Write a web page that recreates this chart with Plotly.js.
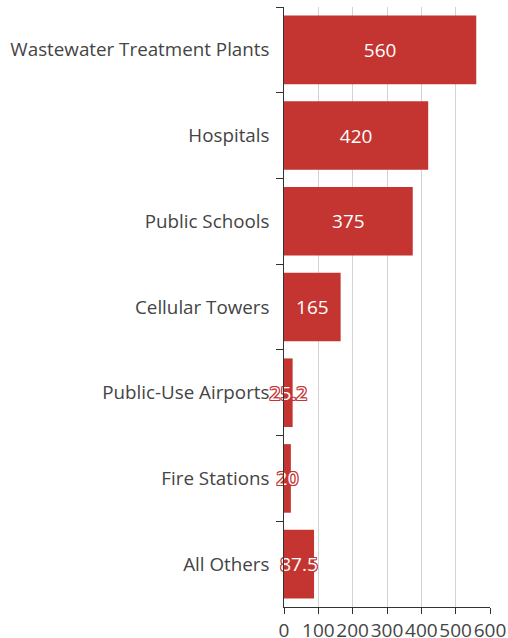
<!DOCTYPE html>
<html><head><meta charset="utf-8">
<script src="https://cdn.plot.ly/plotly-3.0.1.min.js"></script>
<style>html,body{margin:0;padding:0;background:#fff}</style>
</head><body>
<div id="chart" style="width:508px;height:638px"></div>
<script>
const categories = ["Wastewater Treatment Plants","Hospitals","Public Schools","Cellular Towers","Public-Use Airports","Fire Stations","All Others"];
const values = [560, 420, 375, 165, 25.2, 20, 87.5];
const xTicks = [0,100,200,300,400,500,600];
const red = "#c43532";
const outline = ["-1px -1px 0 "+red,"1px -1px 0 "+red,"-1px 1px 0 "+red,"1px 1px 0 "+red,"0 1px 0 "+red,"0 -1px 0 "+red,"1px 0 0 "+red,"-1px 0 0 "+red].join(",");
Plotly.newPlot("chart", [{
  type: "bar", orientation: "h",
  y: categories, x: values,
  text: values.map(String), textposition: "inside", insidetextanchor: "middle", textangle: 0,
  constraintext: "none", cliponaxis: false,
  textfont: {family: "Open Sans, sans-serif", size: 19, color: "#fff", shadow: outline},
  marker: {color: red}, width: 0.8, hoverinfo: "none"
}], {
  width: 508, height: 638,
  margin: {l: 284, r: 18, t: 7, b: 31, pad: 0},
  paper_bgcolor: "#fff", plot_bgcolor: "#fff",
  showlegend: false,
  font: {family: "Open Sans, sans-serif", color: "#444"},
  xaxis: {range: [0, 600], tickvals: xTicks, ticktext: xTicks.map(String), tickangle: 0,
    showgrid: true, gridcolor: "#d3d3d3", gridwidth: 1, zeroline: false,
    showline: true, linecolor: "#333", linewidth: 1, ticks: "outside", ticklen: 6, tickcolor: "#333",
    tickfont: {size: 19, color: "#444"}, fixedrange: true},
  yaxis: {type: "category", range: [6.5, -0.5], tickson: "boundaries",
    showgrid: false, zeroline: false, showline: true, linecolor: "#333", linewidth: 1,
    ticks: "outside", ticklen: 7, tickcolor: "#333", ticksuffix: "  ",
    tickfont: {size: 18.8, color: "#444"}, fixedrange: true}
}, {displayModeBar: false, staticPlot: true});
</script>
</body></html>
